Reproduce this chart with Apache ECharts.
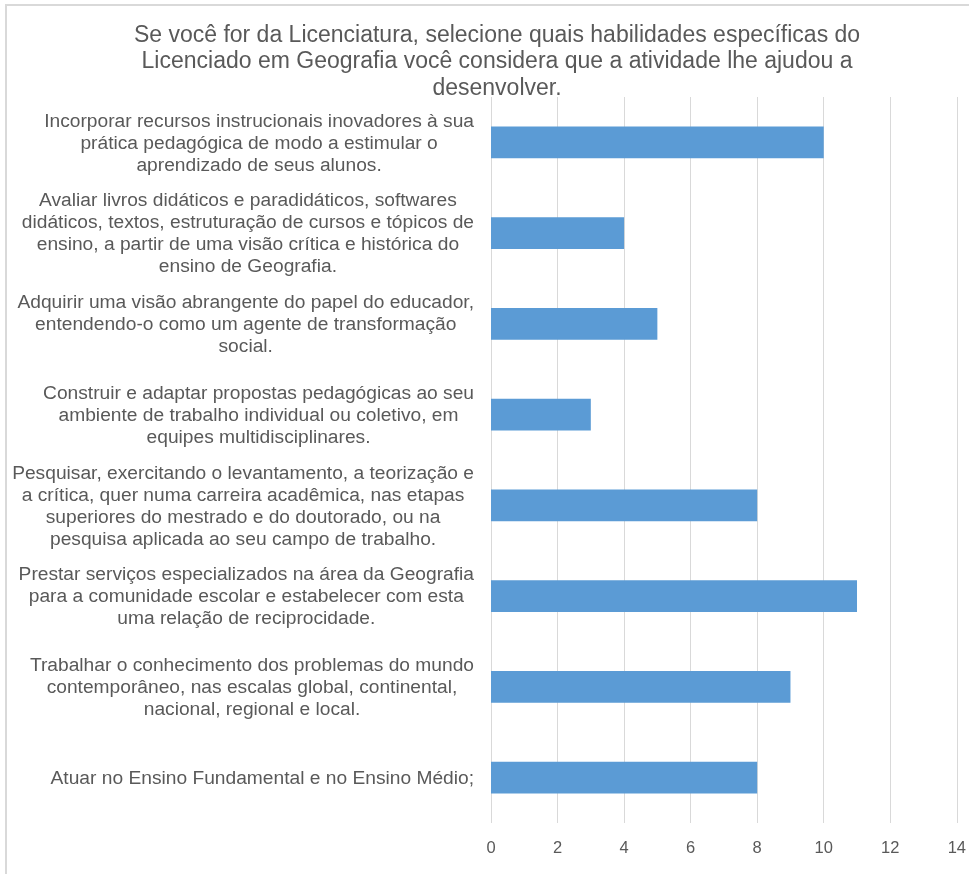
<!DOCTYPE html>
<html>
<head>
<meta charset="utf-8">
<script src="https://cdn.jsdelivr.net/npm/echarts@6/dist/echarts.min.js"></script>
<style>
  html, body { margin: 0; padding: 0; background: #fff; }
  #chart { width: 969px; height: 874px; }
</style>
</head>
<body>
<div id="chart"></div>
<script>
// Skills, listed top to bottom as they appear on the chart
const categories = [
  'Incorporar recursos instrucionais inovadores à sua\nprática pedagógica de modo a estimular o\naprendizado de seus alunos.',
  'Avaliar livros didáticos e paradidáticos, softwares\ndidáticos, textos, estruturação de cursos e tópicos de\nensino, a partir de uma visão crítica e histórica do\nensino de Geografia.',
  'Adquirir uma visão abrangente do papel do educador,\nentendendo-o como um agente de transformação\nsocial.',
  'Construir e adaptar propostas pedagógicas ao seu\nambiente de trabalho individual ou coletivo, em\nequipes multidisciplinares.',
  'Pesquisar, exercitando o levantamento, a teorização e\na crítica, quer numa carreira acadêmica, nas etapas\nsuperiores do mestrado e do doutorado, ou na\npesquisa aplicada ao seu campo de trabalho.',
  'Prestar serviços especializados na área da Geografia\npara a comunidade escolar e estabelecer com esta\numa relação de reciprocidade.',
  'Trabalhar o conhecimento dos problemas do mundo\ncontemporâneo, nas escalas global, continental,\nnacional, regional e local.',
  'Atuar no Ensino Fundamental e no Ensino Médio;'
];
const counts = [10, 4, 5, 3, 8, 11, 9, 8];
const xTicks = [0, 2, 4, 6, 8, 10, 12, 14];

const titleText = 'Se você for da Licenciatura, selecione quais habilidades específicas do\nLicenciado em Geografia você considera que a atividade lhe ajudou a\ndesenvolver.';

const FONT = '"Liberation Sans", Arial, sans-serif';
const TEXT_COLOR = '#595959';

const chart = echarts.init(document.getElementById('chart'), null, { renderer: 'canvas' });

chart.setOption({
  backgroundColor: '#ffffff',
  animation: false,
  graphic: [{
    type: 'rect',
    shape: { x: 6, y: 5, width: 1000, height: 1000 },
    style: { fill: 'none', stroke: '#d9d9d9', lineWidth: 2 },
    silent: true
  }],
  title: {
    text: titleText,
    left: 497,
    top: 22,
    padding: 0,
    textAlign: 'center',
    textStyle: {
      fontFamily: FONT,
      fontSize: 23,
      fontWeight: 'normal',
      color: TEXT_COLOR,
      lineHeight: 26.5,
      align: 'center'
    }
  },
  grid: { left: 491, right: 11, top: 97, bottom: 51, containLabel: false },
  xAxis: {
    type: 'value',
    min: 0,
    max: 14,
    interval: 2,
    axisLine: { show: false },
    axisTick: { show: false },
    splitLine: { show: true, lineStyle: { color: '#d9d9d9', width: 1 } },
    axisLabel: {
      margin: 17,
      fontFamily: FONT,
      fontSize: 16.5,
      color: TEXT_COLOR,
      formatter: v => (xTicks.includes(v) ? String(v) : '')
    }
  },
  yAxis: {
    type: 'category',
    inverse: true,
    data: categories,
    axisLine: { show: false },
    axisTick: { show: false },
    splitLine: { show: false },
    axisLabel: {
      margin: 17,
      interval: 0,
      formatter: v => v.split('\n').map(l => '{c|' + l + '}').join('\n'),
      rich: {
        c: {
          fontFamily: FONT,
          fontSize: 19.2,
          lineHeight: 22,
          color: TEXT_COLOR,
          align: 'center',
          padding: [2, 0, 0, 0]
        }
      }
    }
  },
  series: [{
    type: 'bar',
    data: counts,
    barWidth: '35%',
    itemStyle: { color: '#5b9bd5' }
  }]
});
</script>
</body>
</html>
